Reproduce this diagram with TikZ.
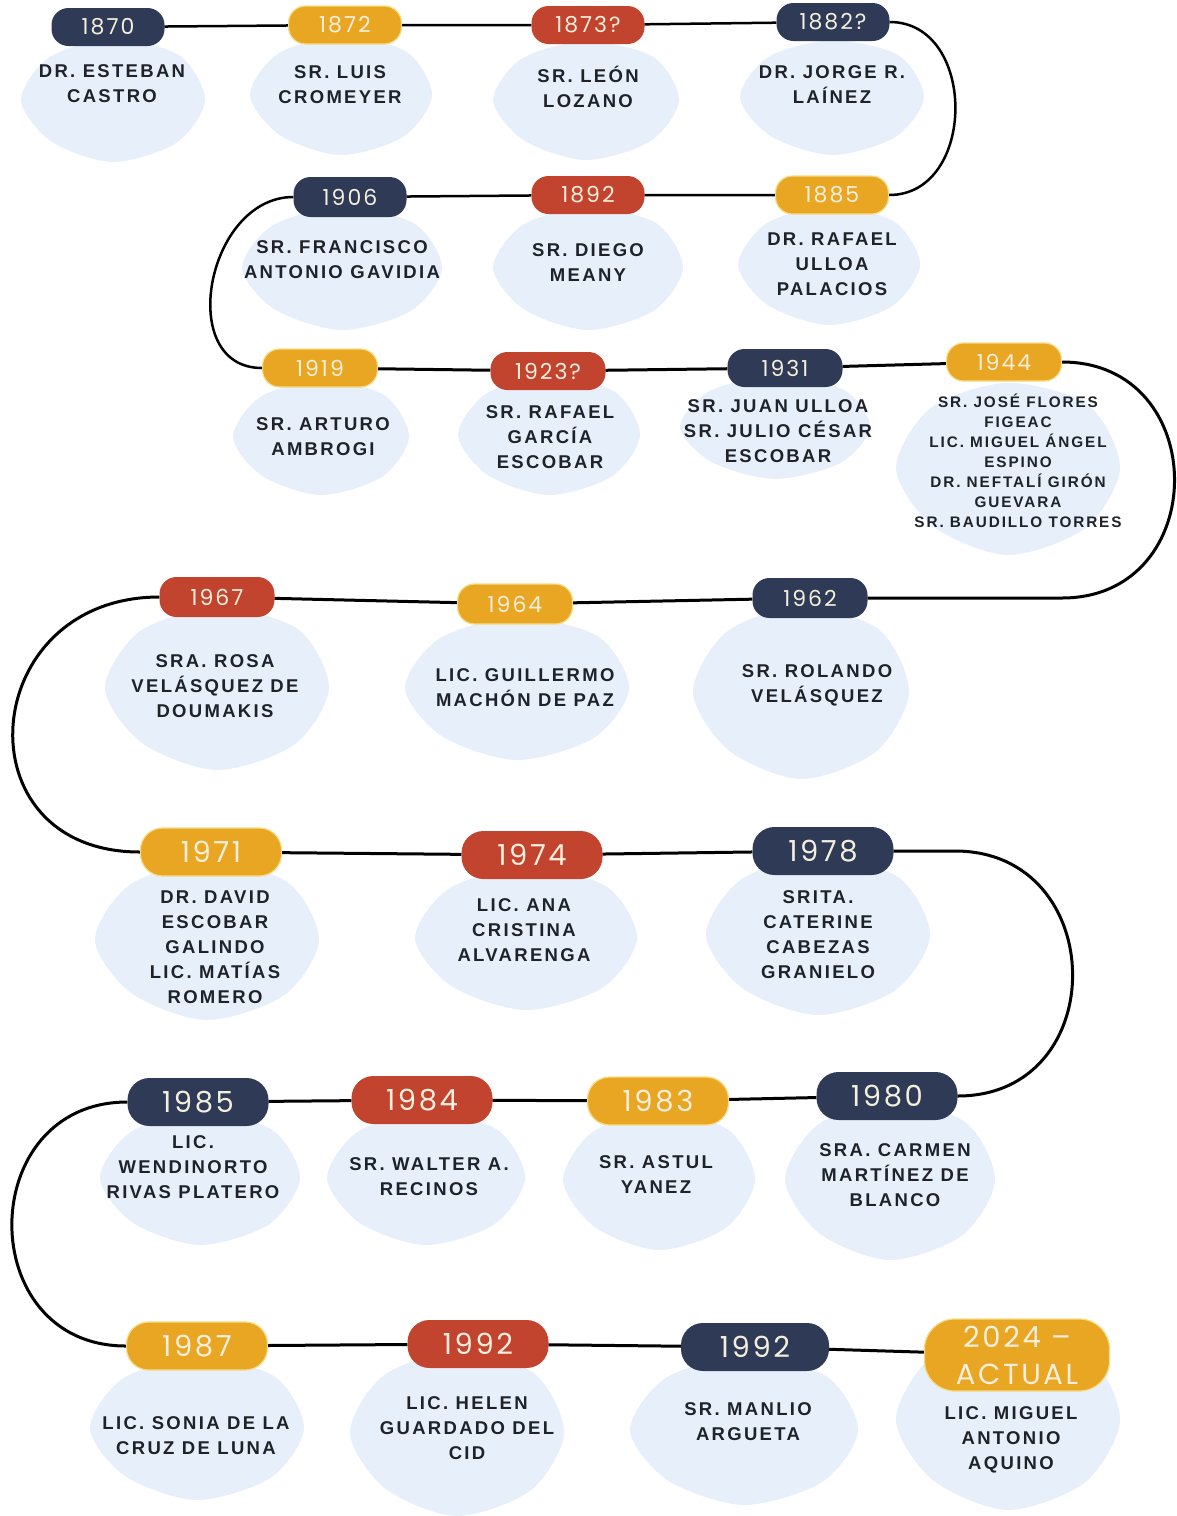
\documentclass[tikz,border=0pt]{standalone}
\usepackage{fontspec}
\setmainfont{Liberation Sans}
\newfontfamily\yearfont[LetterSpace=9]{Poppins}
\newfontfamily\namefont[LetterSpace=12.5]{Liberation Sans}
\definecolor{navy}{HTML}{2E3A56}
\definecolor{orng}{HTML}{E9A623}
\definecolor{orngedge}{HTML}{F6DC86}
\definecolor{redc}{HTML}{C2432E}
\definecolor{blobc}{HTML}{E7F0FA}
\definecolor{ink}{HTML}{1F2229}
\definecolor{yrtxt}{HTML}{F4EEDD}
\newcommand{\blobat}[4]{%
  \fill[blobc] plot[smooth cycle] coordinates {
    ({#1+#3},{#2})
    ({#1+0.69*#3},{#2+0.69*#4})
    ({#1},{#2+#4})
    ({#1-0.67*#3},{#2+0.67*#4})
    ({#1-#3},{#2})
    ({#1-0.69*#3},{#2-0.69*#4})
    ({#1},{#2-0.98*#4})
    ({#1+0.72*#3},{#2-0.72*#4})};}
\tikzset{
  pillS/.style={rectangle, rounded corners=17pt, minimum width=113pt, minimum height=38pt, inner sep=0pt, font=\yearfont\fontsize{22}{22}\selectfont, text=yrtxt},
  pillL/.style={rectangle, rounded corners=22pt, minimum width=141pt, minimum height=48pt, inner sep=0pt, font=\yearfont\fontsize{29}{29}\selectfont, text=yrtxt},
  nv/.style={fill=navy},
  og/.style={fill=orng, draw=orngedge, line width=1.2pt},
  rd/.style={fill=redc},
  nametxt/.style={align=center, text=ink, inner sep=0pt, font=\namefont\bfseries\fontsize{18.5}{25}\selectfont},
  smalltxt/.style={font=\namefont\bfseries\fontsize{15.3}{20}\selectfont},
  conn/.style={line width=3pt, draw=black},
}
\begin{document}
\begin{tikzpicture}[x=1pt,y=-1pt]
\useasboundingbox (0,0) rectangle (1177,1516);
\fill[white] (0,0) rectangle (1177,1516);
% blobs
\blobat{113}{100}{92}{62}
\blobat{341}{95}{91}{60}
\blobat{586}{100}{93}{60}
\blobat{832}{97}{92}{58}
\blobat{342}{268}{100}{62}
\blobat{588}{268}{95}{62}
\blobat{829}{265}{91}{60}
\blobat{321}{437}{88}{58}
\blobat{549}{435}{91}{60}
\blobat{775}{427}{95}{52}
\blobat{1008}{468}{112}{87}
\blobat{217}{688}{112}{82}
\blobat{517}{688}{112}{72}
\blobat{801}{692}{108}{87}
\blobat{207}{940}{112}{80}
\blobat{526}{938}{111}{72}
\blobat{818}{935}{112}{80}
\blobat{200}{1178}{100}{67}
\blobat{426}{1178}{99}{67}
\blobat{659}{1180}{96}{70}
\blobat{890}{1180}{105}{80}
\blobat{197}{1428}{107}{72}
\blobat{457}{1433}{107}{83}
\blobat{744}{1430}{114}{75}
\blobat{1008}{1420}{112}{90}
% pills
\node[pillS,nv] (p1870) at (108,27) {1870};
\node[pillS,og] (p1872) at (345,25) {1872};
\node[pillS,rd] (p1873) at (588,25) {1873?};
\node[pillS,nv] (p1882) at (833,22) {1882?};
\node[pillS,nv,minimum height=40pt] (p1906) at (350,197) {1906};
\node[pillS,rd] (p1892) at (588,195) {1892};
\node[pillS,og] (p1885) at (832,195) {1885};
\node[pillS,og,minimum width=115pt] (p1919) at (320,368) {1919};
\node[pillS,rd,minimum width=115pt] (p1923) at (548,371) {1923?};
\node[pillS,nv,minimum width=115pt] (p1931) at (785,368) {1931};
\node[pillS,og,minimum width=115pt] (p1944) at (1004,362) {1944};
\node[pillS,rd,minimum width=115pt,minimum height=40pt] (p1967) at (217,597) {1967};
\node[pillS,og,minimum width=115pt,minimum height=40pt] (p1964) at (515,604) {1964};
\node[pillS,nv,minimum width=115pt,minimum height=40pt] (p1962) at (810,598) {1962};
\node[pillL,og] (p1971) at (211,852) {1971};
\node[pillL,rd] (p1974) at (532,855) {1974};
\node[pillL,nv] (p1978) at (823,851) {1978};
\node[pillL,nv] (p1985) at (198,1102) {1985};
\node[pillL,rd] (p1984) at (422,1100) {1984};
\node[pillL,og] (p1983) at (658,1101) {1983};
\node[pillL,nv] (p1980) at (887,1096) {1980};
\node[pillL,og] (p1987) at (197,1346) {1987};
\node[pillL,rd] (p1992a) at (478,1344) {1992};
\node[pillL,nv,minimum width=148pt] (p1992b) at (755,1347) {1992};
\node[pillL,og,minimum width=185pt,minimum height=72pt,rounded corners=30pt,align=center,font=\yearfont\fontsize{29}{37}\selectfont] (p2024) at (1017,1355) {2024 –\\ACTUAL};
% free ends of connectors
\coordinate (c4) at (1062,598);
\coordinate (c5) at (955,851);
% connectors
\draw[conn,line width=2.5pt] (p1870) -- (p1872) -- (p1873) -- (p1882);
\draw[conn,line width=2.5pt] (p1882.east) .. controls +(88,0) and +(88,0) .. (p1885.east);
\draw[conn,line width=2.5pt] (p1885) -- (p1892) -- (p1906);
\draw[conn,line width=2.5pt] (p1906.west) .. controls +(-87,0) and +(-87,0) .. (p1919.west);
\draw[conn] (p1919) -- (p1923) -- (p1931) -- (p1944);
\draw[conn] (p1944.east) .. controls +(150,0) and +(150,0) .. (c4) -- (p1962.east);
\draw[conn] (p1962) -- (p1964) -- (p1967);
\draw[conn] (p1967.west) .. controls +(-182,0) and +(-182,0) .. (p1971.west);
\draw[conn] (p1971) -- (p1974) -- (p1978);
\draw[conn] (p1978.east) -- (c5) .. controls +(155,0) and +(155,0) .. (p1980.east);
\draw[conn] (p1980) -- (p1983) -- (p1984) -- (p1985);
\draw[conn] (p1985.west) .. controls +(-153,0) and +(-153,0) .. (p1987.west);
\draw[conn] (p1987) -- (p1992a) -- (p1992b) -- (p2024);
% names
\node[nametxt] (n1870) at (112,84) {DR. ESTEBAN\\CASTRO};
\node[nametxt] (n1872) at (340,85) {SR. LUIS\\CROMEYER};
\node[nametxt] (n1873) at (588,87) {SR. LEÓN\\LOZANO};
\node[nametxt] (n1882) at (832,85) {DR. JORGE R.\\LAÍNEZ};
\node[nametxt] (n1906) at (342,260) {SR. FRANCISCO\\ANTONIO GAVIDIA};
\node[nametxt] (n1892) at (588,263) {SR. DIEGO\\MEANY};
\node[nametxt] (n1885) at (832,264) {DR. RAFAEL\\ULLOA\\PALACIOS};
\node[nametxt] (n1919) at (323,437) {SR. ARTURO\\AMBROGI};
\node[nametxt] (n1923) at (550,437) {SR. RAFAEL\\GARCÍA\\ESCOBAR};
\node[nametxt] (n1931) at (778,431) {SR. JUAN ULLOA\\SR. JULIO CÉSAR\\ESCOBAR};
\node[nametxt,smalltxt] (n1944) at (1018,461) {SR. JOSÉ FLORES\\FIGEAC\\LIC. MIGUEL ÁNGEL\\ESPINO\\DR. NEFTALÍ GIRÓN\\GUEVARA\\SR. BAUDILLO TORRES};
\node[nametxt] (n1967) at (215,686) {SRA. ROSA\\VELÁSQUEZ DE\\DOUMAKIS};
\node[nametxt] (n1964) at (525,688) {LIC. GUILLERMO\\MACHÓN DE PAZ};
\node[nametxt] (n1962) at (817,685) {SR. ROLANDO\\VELÁSQUEZ};
\node[nametxt] (n1971) at (215,947) {DR. DAVID\\ESCOBAR\\GALINDO\\LIC. MATÍAS\\ROMERO};
\node[nametxt] (n1974) at (524,930) {LIC. ANA\\CRISTINA\\ALVARENGA};
\node[nametxt] (n1978) at (818,935) {SRITA.\\CATERINE\\CABEZAS\\GRANIELO};
\node[nametxt] (n1985) at (193,1167) {LIC.\\WENDINORTO\\RIVAS PLATERO};
\node[nametxt] (n1984) at (429,1177) {SR. WALTER A.\\RECINOS};
\node[nametxt] (n1983) at (656,1175) {SR. ASTUL\\YANEZ};
\node[nametxt] (n1980) at (895,1175) {SRA. CARMEN\\MARTÍNEZ DE\\BLANCO};
\node[nametxt] (n1987) at (196,1436) {LIC. SONIA DE LA\\CRUZ DE LUNA};
\node[nametxt] (n1992a) at (467,1428) {LIC. HELEN\\GUARDADO DEL\\CID};
\node[nametxt] (n1992b) at (748,1422) {SR. MANLIO\\ARGUETA};
\node[nametxt] (n2024) at (1011,1440) {LIC. MIGUEL\\ANTONIO\\AQUINO};
\end{tikzpicture}
\end{document}
